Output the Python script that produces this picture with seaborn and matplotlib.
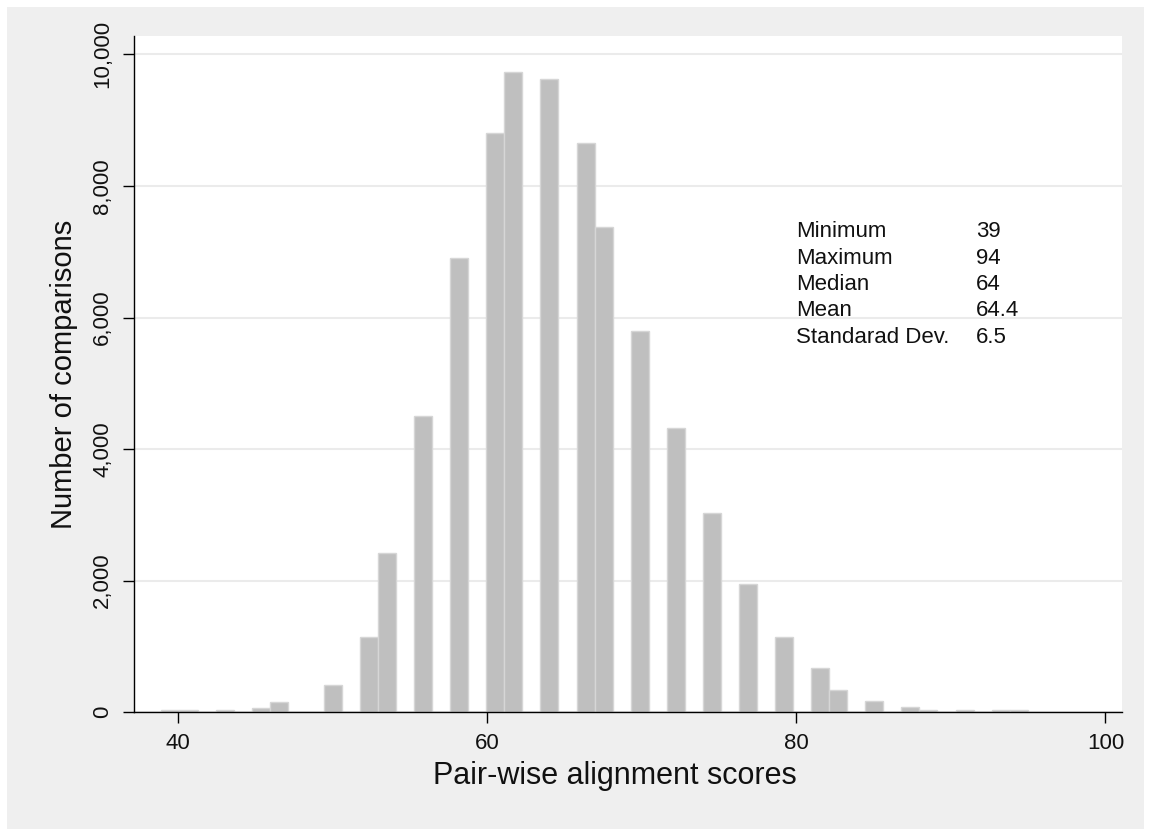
import numpy as np
import pandas as pd
import seaborn as sns
import matplotlib
matplotlib.use("Agg")
from matplotlib import pyplot as plt
from matplotlib.patches import Rectangle
from matplotlib.ticker import FuncFormatter

# bar centres (alignment score) and heights
scores = [39.49, 40.66, 42.99, 45.33, 46.50, 50.00, 52.34, 53.50, 55.84, 58.18,
          60.51, 61.68, 64.02, 66.35, 67.52, 69.86, 72.19, 74.53, 76.86, 79.20,
          81.53, 82.70, 85.04, 87.37, 88.54, 90.88, 93.21, 94.38]
counts = [40, 40, 30, 60, 150, 420, 1150, 2420, 4500, 6900,
          8800, 9730, 9630, 8650, 7380, 5800, 4320, 3030, 1950, 1150,
          680, 340, 170, 80, 35, 35, 35, 35]

x_ticks = [40, 60, 80, 100]
y_ticks = [0, 2000, 4000, 6000, 8000, 10000]

stat_names = ["Minimum", "Maximum", "Median", "Mean", "Standarad Dev."]
stat_values = ["39", "94", "64", "64.4", "6.5"]
stat_y = [7300, 6900, 6500, 6100, 5700]

df = pd.DataFrame({"score": scores, "count": counts})

sns.set_style("white")
plt.rcParams["font.family"] = ["Liberation Sans", "DejaVu Sans"]

fig = plt.figure(figsize=(11.51, 8.36), dpi=100, facecolor="white")
# grey panel behind everything, with thin white frame
fig.patches.append(Rectangle((7 / 1151, 7 / 836), 1 - 14 / 1151, 1 - 14 / 836,
                             transform=fig.transFigure, facecolor="#efefef",
                             edgecolor="none", zorder=-10))
ax = fig.add_axes([0.1164, 0.148, 0.8584, 0.8089])
ax.set_facecolor("white")

binw = 1.168
edges = np.arange(scores[0] - binw / 2, scores[-1] + binw, binw).tolist()
sns.histplot(data=df, x="score", weights="count", bins=edges, ax=ax,
             color="#bfbfbf", edgecolor="#d6d6d6", linewidth=1, alpha=1)

ax.set_xlim(37.13, 101.07)
ax.set_ylim(0, 10278)
ax.set_xticks(x_ticks)
ax.set_yticks(y_ticks)
ax.yaxis.set_major_formatter(FuncFormatter(lambda v, p: f"{int(v):,}"))

ax.yaxis.grid(True, color="#ebebeb", linewidth=1.5)
ax.xaxis.grid(False)
ax.set_axisbelow(True)

for s in ["top", "right"]:
    ax.spines[s].set_visible(False)
for s in ["left", "bottom"]:
    ax.spines[s].set_color("black")
    ax.spines[s].set_linewidth(1)

ax.tick_params(axis="both", direction="out", length=8, width=1, color="black",
               labelsize=16, labelcolor="#111111", pad=7)
ax.tick_params(axis="x", bottom=True)
ax.tick_params(axis="y", left=True, labelrotation=90)
for lbl in ax.get_yticklabels():
    lbl.set_va("center")

ax.set_xlabel("Pair-wise alignment scores", fontsize=22, labelpad=10, color="#111111")
ax.set_ylabel("Number of comparisons", fontsize=21, labelpad=10, color="#111111")
ax.xaxis.set_label_coords(0.487, -0.072)

for name, val, yv in zip(stat_names, stat_values, stat_y):
    ax.text(80, yv, name, fontsize=16, ha="left", va="center", color="#111111")
    ax.text(91.6, yv, val, fontsize=16, ha="left", va="center", color="#111111")

fig.savefig("out.png", dpi=100, facecolor=fig.get_facecolor())
